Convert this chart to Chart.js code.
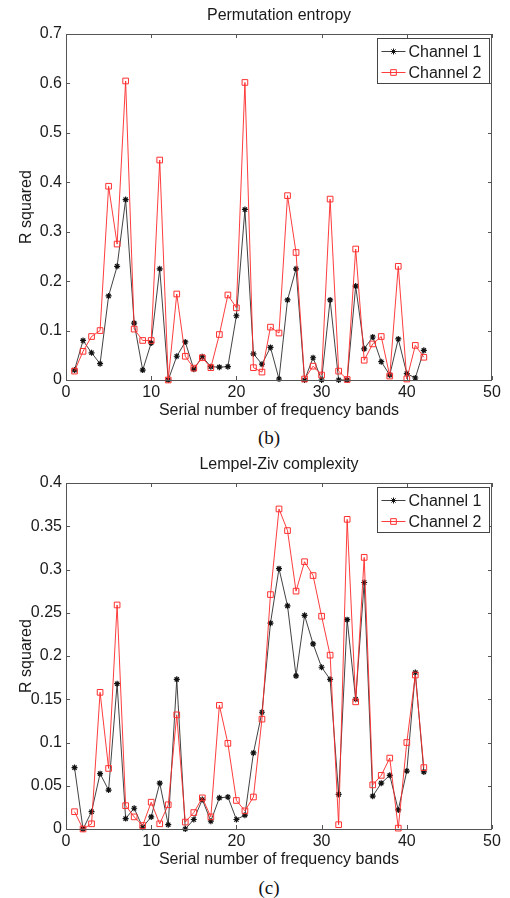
<!DOCTYPE html>
<html>
<head>
<meta charset="utf-8">
<script src="https://cdn.jsdelivr.net/npm/chart.js@4.4.1/dist/chart.umd.min.js"></script>
<style>
    body { margin: 0; background: #fff; width: 510px; height: 898px; position: relative; overflow: hidden; }
    canvas { position: absolute; left: 0; }
    #chartPE { top: 0; }
    #chartLZ { top: 449px; }
    .caption { position: absolute; left: 0; width: 538px; text-align: center; font: 19px "Liberation Serif", "Times New Roman", serif; color: #111; }
</style>
</head>
<body>
<canvas id="chartPE" width="510" height="425"></canvas>
<div class="caption" style="top: 427px;">(b)</div>
<canvas id="chartLZ" width="510" height="425"></canvas>
<div class="caption" style="top: 877px;">(c)</div>

<script>
// frequency band index (x)
const bands = [1, 2, 3, 4, 5, 6, 7, 8, 9, 10, 11, 12, 13, 14, 15, 16, 17, 18, 19, 20, 21,
               22, 23, 24, 25, 26, 27, 28, 29, 30, 31, 32, 33, 34, 35, 36, 37, 38, 39, 40, 41, 42];

// (b) Permutation entropy
const peChannel1 = [0.02, 0.08, 0.055, 0.033, 0.17, 0.23, 0.365, 0.115, 0.02, 0.075, 0.225, 0.0,
                    0.048, 0.077, 0.022, 0.047, 0.027, 0.026, 0.027, 0.13, 0.345, 0.053, 0.032, 0.066,
                    0.002, 0.162, 0.225, 0.0, 0.045, 0.0, 0.162, 0.0, 0.0, 0.19, 0.063, 0.087,
                    0.037, 0.01, 0.083, 0.013, 0.004, 0.06];
const peChannel2 = [0.018, 0.058, 0.088, 0.1, 0.392, 0.275, 0.605, 0.103, 0.08, 0.08, 0.445, 0.0,
                    0.174, 0.048, 0.024, 0.045, 0.025, 0.092, 0.172, 0.146, 0.602, 0.025, 0.016, 0.107,
                    0.095, 0.373, 0.258, 0.002, 0.028, 0.01, 0.366, 0.018, 0.001, 0.265, 0.04, 0.073,
                    0.088, 0.008, 0.23, 0.002, 0.07, 0.046];

// (c) Lempel-Ziv complexity
const lzChannel1 = [0.071, 0.0, 0.02, 0.064, 0.045, 0.168, 0.012, 0.024, 0.002, 0.014, 0.053, 0.005,
                    0.173, 0.0, 0.011, 0.034, 0.009, 0.036, 0.037, 0.011, 0.016, 0.088, 0.135, 0.238,
                    0.301, 0.258, 0.177, 0.247, 0.214, 0.187, 0.173, 0.04, 0.242, 0.15, 0.285, 0.038,
                    0.053, 0.062, 0.022, 0.067, 0.181, 0.066];
const lzChannel2 = [0.02, 0.0, 0.006, 0.158, 0.07, 0.259, 0.027, 0.014, 0.004, 0.031, 0.006, 0.028,
                    0.132, 0.008, 0.019, 0.036, 0.014, 0.143, 0.099, 0.033, 0.021, 0.037, 0.127, 0.271,
                    0.37, 0.345, 0.275, 0.309, 0.293, 0.246, 0.201, 0.005, 0.358, 0.147, 0.314, 0.051,
                    0.062, 0.082, 0.001, 0.1, 0.178, 0.071];

const xTicks = [0, 10, 20, 30, 40, 50];
const peTicks = [0, 0.1, 0.2, 0.3, 0.4, 0.5, 0.6, 0.7];
const lzTicks = [0, 0.05, 0.1, 0.15, 0.2, 0.25, 0.3, 0.35, 0.4];
const seriesNames = ['Channel 1', 'Channel 2'];

const FONT = '"Liberation Sans", Arial, sans-serif';
const TEXT = '#1a1a1a';
const FRAME = '#555';

// box, inward ticks, centred title and legend like a matlab figure
const matlabFrame = {
    id: 'matlabFrame',
    afterDatasetsDraw(chart, args, opts) {
        const { ctx, chartArea: a, scales: { x, y } } = chart;
        ctx.save();
        ctx.strokeStyle = FRAME;
        ctx.lineWidth = 1;
        ctx.strokeRect(Math.round(a.left) + 0.5, Math.round(a.top) + 0.5,
                       Math.round(a.right - a.left) - 1, Math.round(a.bottom - a.top));

        ctx.beginPath();
        x.ticks.forEach(t => {
            const px = Math.round(x.getPixelForValue(t.value)) + 0.5;
            ctx.moveTo(px, a.bottom); ctx.lineTo(px, a.bottom - 4);
            ctx.moveTo(px, a.top); ctx.lineTo(px, a.top + 4);
        });
        y.ticks.forEach(t => {
            const py = Math.round(y.getPixelForValue(t.value)) + 0.5;
            ctx.moveTo(a.left, py); ctx.lineTo(a.left + 4, py);
            ctx.moveTo(a.right, py); ctx.lineTo(a.right - 4, py);
        });
        ctx.stroke();

        // title
        ctx.fillStyle = TEXT;
        ctx.font = '16px ' + FONT;
        ctx.textAlign = 'center';
        ctx.textBaseline = 'middle';
        ctx.fillText(opts.title, (a.left + a.right) / 2, a.top - 18);

        // legend
        const bx = Math.round(a.right) - 114.5, by = Math.round(a.top) + 4.5;
        ctx.fillStyle = '#fff';
        ctx.fillRect(bx, by, 112, 45);
        ctx.strokeStyle = '#444';
        ctx.strokeRect(bx, by, 112, 45);
        chart.data.datasets.forEach((ds, i) => {
            const ly = by + 13 + i * 21;
            ctx.strokeStyle = ds.borderColor;
            ctx.lineWidth = 1;
            ctx.beginPath();
            ctx.moveTo(bx + 4, ly); ctx.lineTo(bx + 28, ly);
            ctx.stroke();
            ctx.fillStyle = ds.pointBackgroundColor;
            ctx.strokeStyle = ds.pointBorderColor;
            Chart.helpers.drawPoint(ctx, {
                pointStyle: ds.pointStyle, radius: ds.pointRadius, rotation: 0, borderWidth: 1
            }, bx + 16, ly);
            ctx.fillStyle = TEXT;
            ctx.textAlign = 'left';
            ctx.fillText(ds.label, bx + 31, ly + 1);
        });
        ctx.restore();
    }
};

function makeChart(id, title, ch1, ch2, yTicks) {
    const ctx = document.getElementById(id).getContext('2d');
    return new Chart(ctx, {
        type: 'line',
        data: {
            datasets: [{
                label: seriesNames[0],
                data: bands.map((b, i) => ({ x: b, y: ch1[i] })),
                borderColor: 'rgba(45,45,45,0.9)',
                borderWidth: 1,
                pointStyle: 'star',
                pointRadius: 3,
                pointBorderWidth: 1.2,
                pointBorderColor: '#111',
                pointBackgroundColor: '#111',
                tension: 0,
                clip: 8,
                order: 2
            }, {
                label: seriesNames[1],
                data: bands.map((b, i) => ({ x: b, y: ch2[i] })),
                borderColor: 'rgba(255,40,40,0.9)',
                borderWidth: 1,
                pointStyle: 'rect',
                pointRadius: 4,
                pointBorderWidth: 1,
                pointBorderColor: '#ff3030',
                pointBackgroundColor: 'rgba(255,255,255,0)',
                tension: 0,
                clip: 8,
                order: 1
            }]
        },
        options: {
            responsive: false,
            animation: false,
            layout: { padding: { top: 34, right: 18, left: 0, bottom: 0 } },
            plugins: {
                legend: { display: false },
                tooltip: { enabled: false },
                matlabFrame: { title: title }
            },
            scales: {
                x: {
                    type: 'linear',
                    min: 0,
                    max: 50,
                    afterBuildTicks: s => { s.ticks = xTicks.map(v => ({ value: v })); },
                    afterFit: s => { s.height = 45; },
                    grid: { display: false, drawTicks: false },
                    border: { display: false },
                    ticks: { padding: 3, color: TEXT, font: { family: FONT, size: 16 } },
                    title: {
                        display: true, text: 'Serial number of frequency bands', color: TEXT,
                        font: { family: FONT, size: 16 }, padding: { top: 0, bottom: 5 }
                    }
                },
                y: {
                    min: 0,
                    max: yTicks[yTicks.length - 1],
                    afterBuildTicks: s => { s.ticks = yTicks.map(v => ({ value: v })); },
                    afterFit: s => { s.width = 66; },
                    grid: { display: false, drawTicks: false },
                    border: { display: false },
                    ticks: { padding: 4, color: TEXT, font: { family: FONT, size: 16 },
                             callback: v => String(v) },
                    title: {
                        display: true, text: 'R squared', color: TEXT,
                        font: { family: FONT, size: 16 }, padding: { top: 17, bottom: 0 }
                    }
                }
            }
        },
        plugins: [matlabFrame]
    });
}

document.addEventListener("DOMContentLoaded", () => {
    makeChart('chartPE', 'Permutation entropy', peChannel1, peChannel2, peTicks);
    makeChart('chartLZ', 'Lempel-Ziv complexity', lzChannel1, lzChannel2, lzTicks);
});
</script>
</body>
</html>
